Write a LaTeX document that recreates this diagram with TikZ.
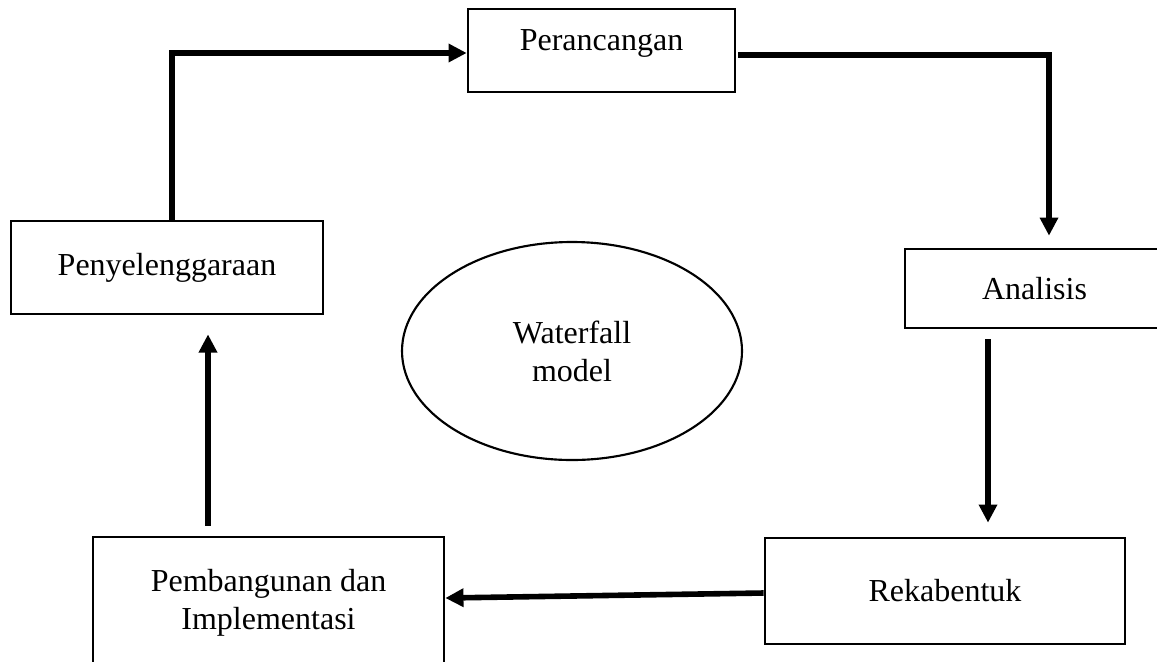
\documentclass[tikz,border=0pt]{standalone}
\usepackage{fontspec}
\setmainfont{Liberation Serif}
\usepackage{tikz}
\usetikzlibrary{shapes.geometric,arrows.meta,positioning,calc}

\begin{document}
\begin{tikzpicture}[x=0.375pt, y=-0.375pt,
    stagebox/.style={draw, line width=1pt, align=center, inner sep=0pt,
      font=\fontsize{12}{14.25}\selectfont},
    flow/.style={line width=2.1pt, -{Triangle[length=6.8pt,width=6.6pt]}}]
    \useasboundingbox (0,0) rectangle (1157,661);

    %, Stages ---
    \node[stagebox, minimum width=100.1pt, minimum height=31.1pt, text depth=8pt] (peran) at (601.5,50.5) {Perancangan};
    \node[stagebox, minimum width=117pt, minimum height=34.9pt] (peny) at (167,267.5) {Penyelenggaraan};
    \node[stagebox, minimum width=97.1pt, minimum height=29.6pt] (anal) at (1034.5,288.5) {Analisis};
    \node[stagebox, minimum width=135pt, minimum height=39.75pt] (reka) at (945,591) {Rekabentuk};
    \node[stagebox, minimum width=131.6pt, minimum height=49.1pt] (pemb) at (268.5,602.5) {Pembangunan dan\\Implementasi};

    %, Centre ---
    \node[stagebox, ellipse, line width=0.8pt, minimum width=127.5pt, minimum height=81.75pt] (wf) at (572,351) {Waterfall\\model};

    %, Cycle arrows ---
    \draw[flow] ($(peny.north)+(5,0)$) |- ($(peran.west)+(0,2.5)$);
    \draw[flow] ($(peran.east)+(2,4.5)$) -| ($(anal.north)+(14.5,-12)$);
    \draw[flow] ($(anal.south)+(-46.5,10)$) -- ($(reka.north)+(43,-14)$);
    \draw[flow] ($(reka.west)+(0,2)$) -- ($(pemb.east)+(0,-4.5)$);
    \draw[flow] ($(pemb.north)+(-60.5,-10)$) -- ($(peny.south)+(41,19)$);
\end{tikzpicture}
\end{document}
